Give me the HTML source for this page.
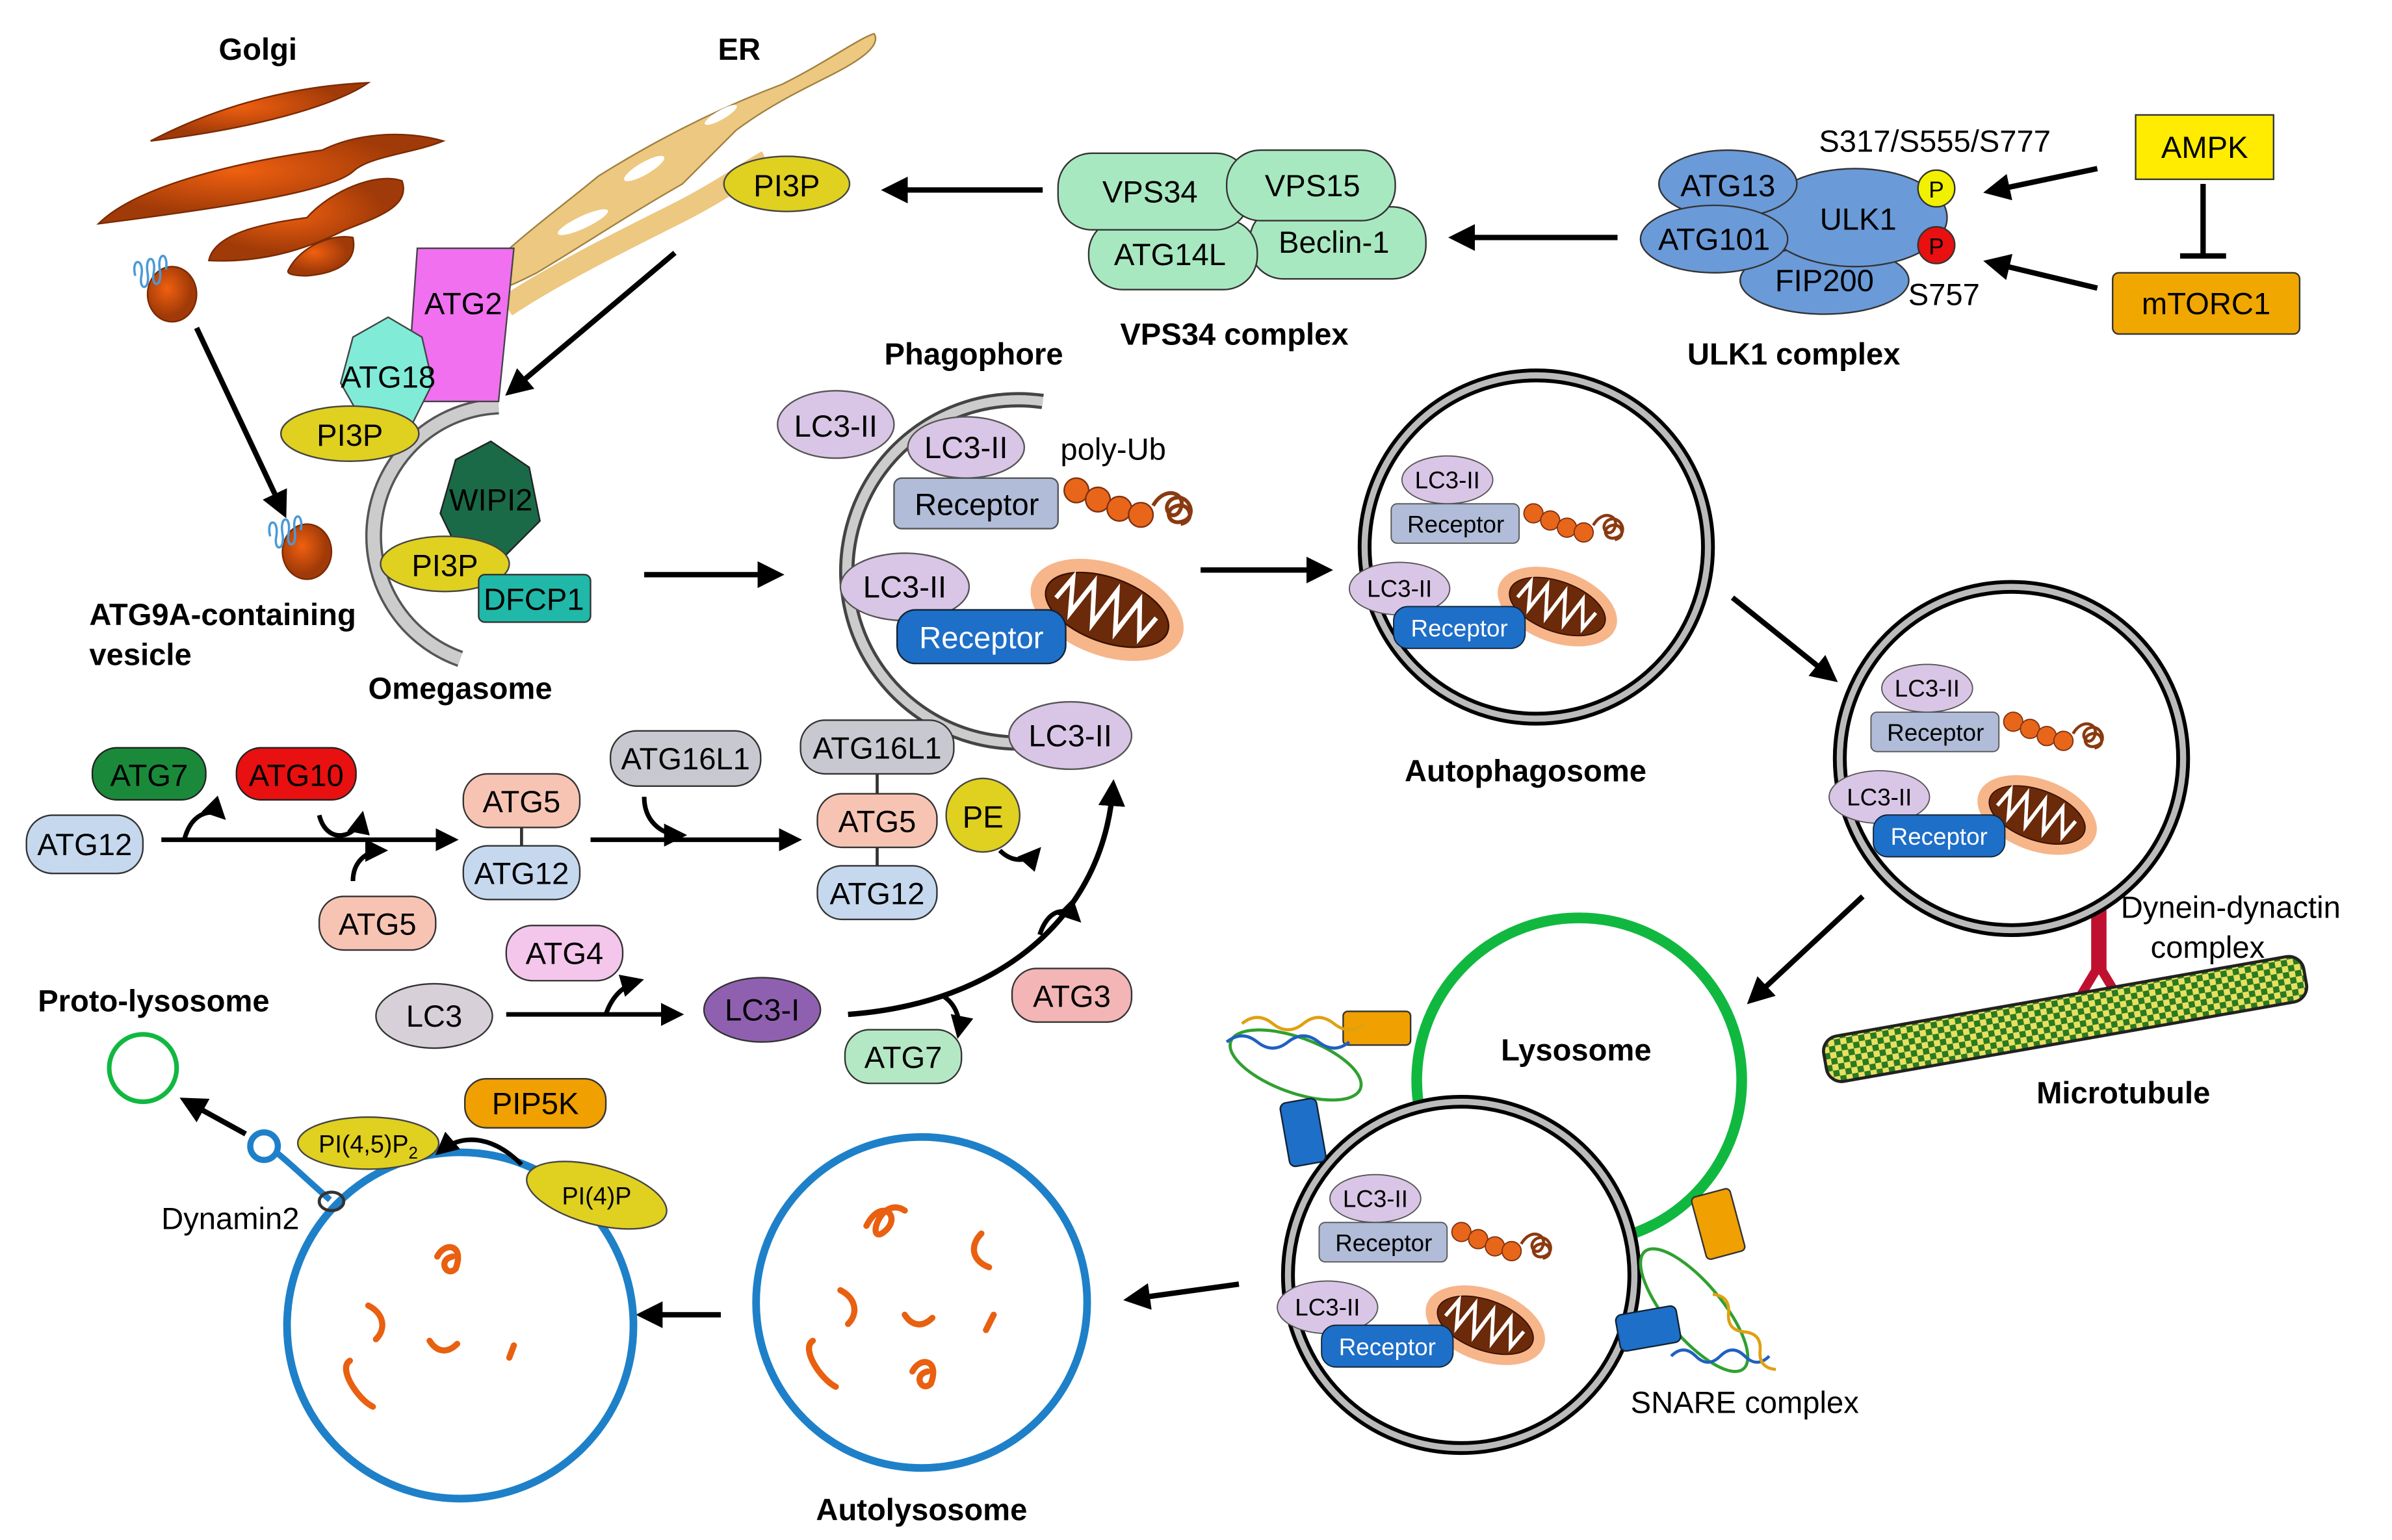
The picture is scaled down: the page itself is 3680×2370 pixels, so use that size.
<!DOCTYPE html>
<html><head><meta charset="utf-8"><style>
html,body{margin:0;padding:0;background:#fff;}
svg{display:block;}
text{font-family:"Liberation Sans",sans-serif;}
.b{font-weight:bold;font-size:20px;}
.t{font-size:20px;}
</style></head><body>
<svg width="3680" height="2370" viewBox="0 0 1560 1005" xmlns="http://www.w3.org/2000/svg">
<defs>
<marker id="ar" viewBox="0 0 10 10" refX="8" refY="5" markerWidth="5" markerHeight="5" orient="auto"><path d="M0,0 L10,5 L0,10 z" fill="#000"/></marker>
<pattern id="chk" width="8" height="8" patternUnits="userSpaceOnUse"><rect width="8" height="8" fill="#e8e060"/><rect width="4" height="4" fill="#2a7a20"/><rect x="4" y="4" width="4" height="4" fill="#2a7a20"/></pattern>
<radialGradient id="org" cx="0.4" cy="0.4"><stop offset="0" stop-color="#f06010"/><stop offset="1" stop-color="#a03a08"/></radialGradient>
<g id="mito"><ellipse rx="52" ry="30" fill="#f7b58a"/><ellipse rx="42" ry="21" fill="#6b2a0a" stroke="#3a1000"/><path d="M-34,4 L-28,-12 L-22,10 L-14,-14 L-6,12 L2,-14 L10,12 L18,-13 L26,10 L32,-6" fill="none" stroke="#fff" stroke-width="3"/></g>
<g id="ub"><circle cx="0" cy="0" r="8" fill="#e8661a" stroke="#803010"/><circle cx="14" cy="6" r="8" fill="#e8661a" stroke="#803010"/><circle cx="28" cy="12" r="8" fill="#e8661a" stroke="#803010"/><circle cx="42" cy="16" r="8" fill="#e8661a" stroke="#803010"/><path d="M50,10 c8,-14 22,-8 18,2 c-4,10 -14,0 -6,-6 c10,-6 18,10 8,14 c-10,4 -14,-8 -4,-10 c8,-2 12,10 2,12" fill="none" stroke="#8a3a10" stroke-width="2.5"/></g>
<g id="cargo">
<ellipse cx="50" cy="22" rx="38" ry="20" fill="#d9c6e6" stroke="#555"/><text x="50" y="29" text-anchor="middle" class="t">LC3-II</text>
<rect x="3" y="42" width="107" height="33" rx="5" fill="#b0bcd8" stroke="#555"/><text x="57" y="66" text-anchor="middle" class="t">Receptor</text>
<use href="#ub" x="122" y="50"/>
<ellipse cx="10" cy="113" rx="42" ry="22" fill="#d9c6e6" stroke="#555"/><text x="10" y="120" text-anchor="middle" class="t">LC3-II</text>
<use href="#mito" transform="translate(142,128) rotate(20)"/>
<rect x="5" y="128" width="110" height="35" rx="12" fill="#1e6fc8" stroke="#123"/><text x="60" y="153" text-anchor="middle" class="t" fill="#fff">Receptor</text>
</g>
</defs>

<!-- Golgi -->
<path d="M98,92 C140,70 190,56 240,54 C225,65 180,82 98,92z" fill="url(#org)" stroke="#7a2a00"/>
<path d="M64,146 C90,120 160,105 210,98 C230,88 260,84 289,92 C270,100 240,102 230,112 C215,125 150,135 64,146z" fill="url(#org)" stroke="#7a2a00"/>
<path d="M136,170 C140,150 180,145 200,142 C215,125 245,112 262,118 C268,135 245,142 225,150 C205,160 175,172 136,170z" fill="url(#org)" stroke="#7a2a00"/>
<path d="M188,176 C195,162 215,152 230,155 C233,170 222,178 200,180 C192,180 186,179 188,176z" fill="url(#org)" stroke="#7a2a00"/>
<ellipse cx="112" cy="192" rx="16" ry="18" fill="url(#org)" stroke="#7a2a00"/>
<path d="M88,180 c-3,-12 6,-12 4,0 c-2,10 6,10 4,-2 c-2,-12 6,-12 4,0 c-2,10 6,10 4,-2 c-2,-12 6,-12 4,0" fill="none" stroke="#4a9ad8" stroke-width="1.5"/>
<ellipse cx="200" cy="360" rx="16" ry="18" fill="url(#org)" stroke="#7a2a00"/>
<path d="M176,350 c-3,-12 6,-12 4,0 c-2,10 6,10 4,-2 c-2,-12 6,-12 4,0 c-2,10 6,10 4,-2 c-2,-12 6,-12 4,0" fill="none" stroke="#4a9ad8" stroke-width="1.5"/>
<line x1="128" y1="214" x2="185" y2="335" stroke="#000" stroke-width="3.5" marker-end="url(#ar)"/>
<text x="168" y="39" text-anchor="middle" class="b">Golgi</text>
<text x="482" y="39" text-anchor="middle" class="b">ER</text>
<text x="58" y="408" class="b">ATG9A-containing</text>
<text x="58" y="434" class="b">vesicle</text>
<text x="300" y="456" text-anchor="middle" class="b">Omegasome</text>

<!-- ER -->
<path d="M305,190 C330,160 360,140 390,115 C430,90 470,70 510,55 C540,40 560,25 570,22 C575,30 560,40 540,50 C520,60 500,70 480,85 C470,95 460,105 445,120 C410,140 380,160 350,178 C330,188 315,195 305,190 z" fill="#ecc880" stroke="#a08040"/>
<path d="M330,200 C360,180 400,160 440,140 C470,125 490,110 500,105" fill="none" stroke="#ecc880" stroke-width="14"/>
<ellipse cx="420" cy="110" rx="15" ry="4" fill="#fff" transform="rotate(-30 420 110)"/>
<ellipse cx="470" cy="75" rx="12" ry="3" fill="#fff" transform="rotate(-30 470 75)"/>
<ellipse cx="380" cy="145" rx="18" ry="4" fill="#fff" transform="rotate(-25 380 145)"/>
<ellipse cx="513" cy="120" rx="41" ry="18" fill="#e0d020" stroke="#444"/><text x="513" y="128" text-anchor="middle" class="t">PI3P</text>
<line x1="440" y1="165" x2="332" y2="256" stroke="#000" stroke-width="3.5" marker-end="url(#ar)"/>

<!-- Omegasome -->
<path d="M325,265 A85,85 0 0 0 300,430" fill="none" stroke="#555" stroke-width="11"/>
<path d="M325,265 A85,85 0 0 0 300,430" fill="none" stroke="#ccc" stroke-width="8"/>
<polygon points="272,162 335,162 325,262 265,262" fill="#f070f0" stroke="#444"/><text x="302" y="205" text-anchor="middle" class="t">ATG2</text>
<polygon points="253,207 275,220 282,250 268,278 238,278 222,250 230,220" fill="#80ecd8" stroke="#444"/><text x="253" y="253" text-anchor="middle" class="t">ATG18</text>
<ellipse cx="228" cy="283" rx="45" ry="18" fill="#e0d020" stroke="#444"/><text x="228" y="291" text-anchor="middle" class="t">PI3P</text>
<polygon points="320,288 345,305 352,340 330,362 300,362 287,335 297,300" fill="#1a6a48" stroke="#222"/><text x="320" y="333" text-anchor="middle" class="t">WIPI2</text>
<ellipse cx="290" cy="368" rx="42" ry="18" fill="#e0d020" stroke="#444"/><text x="290" y="376" text-anchor="middle" class="t">PI3P</text>
<rect x="312" y="375" width="73" height="31" rx="4" fill="#20b8a8" stroke="#333"/><text x="348" y="398" text-anchor="middle" class="t">DFCP1</text>
<line x1="420" y1="375" x2="508" y2="375" stroke="#000" stroke-width="3.5" marker-end="url(#ar)"/>

<!-- VPS34 complex -->
<line x1="680" y1="124" x2="578" y2="124" stroke="#000" stroke-width="3.5" marker-end="url(#ar)"/>
<rect x="815" y="135" width="115" height="47" rx="22" fill="#a8e8c0" stroke="#333"/><text x="870" y="165" text-anchor="middle" class="t">Beclin-1</text>
<rect x="710" y="143" width="110" height="46" rx="22" fill="#a8e8c0" stroke="#333"/><text x="763" y="173" text-anchor="middle" class="t">ATG14L</text>
<rect x="690" y="100" width="125" height="50" rx="22" fill="#a8e8c0" stroke="#333"/><text x="750" y="132" text-anchor="middle" class="t">VPS34</text>
<rect x="800" y="98" width="110" height="46" rx="22" fill="#a8e8c0" stroke="#333"/><text x="856" y="128" text-anchor="middle" class="t">VPS15</text>
<text x="805" y="225" text-anchor="middle" class="b">VPS34 complex</text>
<line x1="1055" y1="155" x2="948" y2="155" stroke="#000" stroke-width="3.5" marker-end="url(#ar)"/>

<!-- ULK1 complex -->
<ellipse cx="1190" cy="183" rx="55" ry="22" fill="#6a9ad8" stroke="#333"/><text x="1190" y="190" text-anchor="middle" class="t">FIP200</text>
<ellipse cx="1210" cy="142" rx="60" ry="32" fill="#6a9ad8" stroke="#333"/><text x="1212" y="150" text-anchor="middle" class="t">ULK1</text>
<ellipse cx="1127" cy="120" rx="45" ry="22" fill="#6a9ad8" stroke="#333"/><text x="1127" y="128" text-anchor="middle" class="t">ATG13</text>
<ellipse cx="1118" cy="156" rx="48" ry="22" fill="#6a9ad8" stroke="#333"/><text x="1118" y="163" text-anchor="middle" class="t">ATG101</text>
<circle cx="1263" cy="123" r="12" fill="#f0f000" stroke="#333"/><text x="1263" y="129" text-anchor="middle" font-size="15">P</text>
<circle cx="1263" cy="160" r="12" fill="#e81010" stroke="#333"/><text x="1263" y="166" text-anchor="middle" font-size="15">P</text>
<text x="1262" y="99" text-anchor="middle" class="t">S317/S555/S777</text>
<text x="1268" y="199" text-anchor="middle" class="t">S757</text>
<text x="1170" y="238" text-anchor="middle" class="b">ULK1 complex</text>
<rect x="1393" y="75" width="90" height="42" fill="#ffec00" stroke="#333"/><text x="1438" y="103" text-anchor="middle" class="t">AMPK</text>
<rect x="1378" y="178" width="122" height="40" rx="4" fill="#f0a800" stroke="#333"/><text x="1439" y="205" text-anchor="middle" class="t">mTORC1</text>
<line x1="1437" y1="120" x2="1437" y2="167" stroke="#000" stroke-width="3.5"/><line x1="1422" y1="167" x2="1452" y2="167" stroke="#000" stroke-width="3.5"/>
<line x1="1368" y1="110" x2="1297" y2="125" stroke="#000" stroke-width="3.5" marker-end="url(#ar)"/>
<line x1="1368" y1="188" x2="1297" y2="171" stroke="#000" stroke-width="3.5" marker-end="url(#ar)"/>

<!-- Phagophore -->
<text x="635" y="238" text-anchor="middle" class="b">Phagophore</text>
<path d="M680,262 A112,112 0 1 0 720,470" fill="none" stroke="#444" stroke-width="10"/>
<path d="M680,262 A112,112 0 1 0 720,470" fill="none" stroke="#ccc" stroke-width="6"/>
<ellipse cx="545" cy="277" rx="38" ry="22" fill="#d9c6e6" stroke="#555"/><text x="545" y="285" text-anchor="middle" class="t">LC3-II</text>
<use href="#cargo" x="580" y="270"/>
<text x="726" y="300" text-anchor="middle" class="t">poly-Ub</text>
<line x1="783" y1="372" x2="866" y2="372" stroke="#000" stroke-width="3.5" marker-end="url(#ar)"/>

<!-- Autophagosome -->
<circle cx="1002" cy="357" r="112" fill="none" stroke="#000" stroke-width="9"/><circle cx="1002" cy="357" r="112" fill="none" stroke="#bbb" stroke-width="4"/>
<use href="#cargo" transform="translate(905,296) scale(0.78)"/>
<text x="995" y="510" text-anchor="middle" class="b">Autophagosome</text>
<line x1="1130" y1="390" x2="1196" y2="443" stroke="#000" stroke-width="3.5" marker-end="url(#ar)"/>

<!-- Autophagosome 2 -->
<rect x="1364" y="585" width="10" height="50" fill="#c01030"/>
<path d="M1369,630 l-12,20 M1369,630 l12,20" stroke="#c01030" stroke-width="6"/>
<circle cx="1312" cy="495" r="112" fill="#fff" stroke="#000" stroke-width="9"/><circle cx="1312" cy="495" r="112" fill="none" stroke="#bbb" stroke-width="4"/>
<use href="#cargo" transform="translate(1218,432) scale(0.78)"/>
<g transform="rotate(-10 1347 665)"><rect x="1188" y="650" width="318" height="30" rx="10" fill="url(#chk)" stroke="#222" stroke-width="2"/></g>
<text x="1455" y="599" text-anchor="middle" class="t">Dynein-dynactin</text>
<text x="1440" y="625" text-anchor="middle" class="t">complex</text>
<text x="1385" y="720" text-anchor="middle" class="b">Microtubule</text>
<line x1="1215" y1="585" x2="1142" y2="653" stroke="#000" stroke-width="3.5" marker-end="url(#ar)"/>

<!-- Lysosome fusion -->
<circle cx="1030" cy="705" r="106" fill="none" stroke="#10b840" stroke-width="7"/>
<text x="1028" y="692" text-anchor="middle" class="b">Lysosome</text>
<circle cx="953" cy="832" r="113" fill="#fff" stroke="#000" stroke-width="9"/><circle cx="953" cy="832" r="113" fill="none" stroke="#bbb" stroke-width="4"/>
<use href="#cargo" transform="translate(858,765) scale(0.78)"/>
<rect x="876" y="660" width="44" height="22" rx="3" fill="#f0a000" stroke="#333"/>
<ellipse cx="845" cy="695" rx="45" ry="18" fill="none" stroke="#30a030" stroke-width="2" transform="rotate(20 845 695)"/>
<path d="M800,680 q10,-8 20,0 t20,0 t20,0 t20,0" fill="none" stroke="#2060c0" stroke-width="2"/>
<path d="M810,668 q10,-8 20,0 t20,0 t20,0 t20,0" fill="none" stroke="#e0a010" stroke-width="2"/>
<rect x="838" y="718" width="24" height="42" rx="4" fill="#1e6fc8" stroke="#123" transform="rotate(-10 850 740)"/>
<rect x="1108" y="778" width="26" height="42" rx="3" fill="#f0a000" stroke="#333" transform="rotate(-15 1120 800)"/>
<ellipse cx="1105" cy="855" rx="50" ry="18" fill="none" stroke="#30a030" stroke-width="2" transform="rotate(50 1105 855)"/>
<path d="M1090,885 q8,-8 16,0 t16,0 t16,0 t16,0" fill="none" stroke="#2060c0" stroke-width="2"/>
<path d="M1110,860 q8,-8 16,0 t16,0 t16,0 t16,0" fill="none" stroke="#e0a010" stroke-width="2" transform="rotate(50 1130 860)"/>
<rect x="1055" y="855" width="40" height="24" rx="4" fill="#1e6fc8" stroke="#123" transform="rotate(-10 1075 867)"/>
<text x="1138" y="922" text-anchor="middle" class="t">SNARE complex</text>
<line x1="808" y1="838" x2="736" y2="848" stroke="#000" stroke-width="3.5" marker-end="url(#ar)"/>

<!-- Autolysosome -->
<circle cx="601" cy="850" r="108" fill="none" stroke="#1e80c8" stroke-width="5"/>
<g fill="none" stroke="#e86010" stroke-width="4" stroke-linecap="round">
<path d="M565,800 c10,-20 25,-5 10,5 c-10,5 0,-25 15,-15"/><path d="M640,805 c-8,8 -6,18 5,22"/><path d="M548,842 c10,5 12,15 5,22"/><path d="M590,858 c5,8 12,8 18,2"/><path d="M648,858 l-5,10"/><path d="M530,875 c-8,5 5,25 15,30"/><path d="M595,895 c5,-10 18,-8 12,8 c-6,6 -12,-6 -2,-8"/>
<path d="M285,820 c5,-10 18,-8 12,8 c-6,6 -12,-6 -2,-8"/><path d="M240,852 c10,5 12,15 5,22"/><path d="M280,875 c5,8 12,8 18,2"/><path d="M335,878 l-3,8"/><path d="M228,888 c-8,5 5,25 15,30"/>
</g>
<text x="601" y="992" text-anchor="middle" class="b">Autolysosome</text>
<line x1="470" y1="858" x2="418" y2="858" stroke="#000" stroke-width="3.5" marker-end="url(#ar)"/>

<!-- Reformation -->
<circle cx="300" cy="865" r="113" fill="none" stroke="#1e80c8" stroke-width="5"/>
<circle cx="93" cy="697" r="22" fill="none" stroke="#10b840" stroke-width="3"/>
<text x="100" y="660" text-anchor="middle" class="b">Proto-lysosome</text>
<line x1="160" y1="740" x2="120" y2="718" stroke="#000" stroke-width="3.5" marker-end="url(#ar)"/>
<path d="M215,783 C200,770 190,760 180,752" fill="none" stroke="#1e80c8" stroke-width="4"/>
<circle cx="172" cy="748" r="9" fill="none" stroke="#1e80c8" stroke-width="4"/>
<ellipse cx="216" cy="784" rx="8" ry="6" fill="none" stroke="#333" stroke-width="2"/>
<ellipse cx="240" cy="746" rx="46" ry="17" fill="#e0d020" stroke="#444"/><text x="240" y="752" text-anchor="middle" font-size="16">PI(4,5)P<tspan font-size="11" dy="4">2</tspan></text>
<ellipse cx="389" cy="780" rx="47" ry="19" fill="#e0d020" stroke="#444" transform="rotate(15 389 780)"/><text x="389" y="786" text-anchor="middle" font-size="16">PI(4)P</text>
<rect x="303" y="704" width="92" height="32" rx="14" fill="#f0a000" stroke="#333"/><text x="349" y="727" text-anchor="middle" class="t">PIP5K</text>
<path d="M340,760 C320,740 300,740 286,752" fill="none" stroke="#000" stroke-width="3" marker-end="url(#ar)"/>
<text x="150" y="802" text-anchor="middle" class="t">Dynamin2</text>

<!-- Conjugation -->
<line x1="105" y1="548" x2="296" y2="548" stroke="#000" stroke-width="3" marker-end="url(#ar)"/>
<rect x="60" y="488" width="74" height="34" rx="16" fill="#1a8a3a" stroke="#222"/><text x="97" y="513" text-anchor="middle" class="t">ATG7</text>
<rect x="154" y="488" width="78" height="34" rx="16" fill="#e81010" stroke="#222"/><text x="193" y="513" text-anchor="middle" class="t">ATG10</text>
<rect x="17" y="532" width="76" height="38" rx="17" fill="#c5d8ee" stroke="#333"/><text x="55" y="558" text-anchor="middle" class="t">ATG12</text>
<path d="M120,548 c5,-20 20,-20 25,-15" fill="none" stroke="#000" stroke-width="3" marker-end="url(#ar)"/>
<path d="M208,532 c5,20 25,15 28,0" fill="none" stroke="#000" stroke-width="3" marker-end="url(#ar)"/>
<path d="M230,575 c0,-12 8,-20 20,-20" fill="none" stroke="#000" stroke-width="3" marker-end="url(#ar)"/>
<rect x="208" y="585" width="76" height="35" rx="16" fill="#f7c4b4" stroke="#333"/><text x="246" y="610" text-anchor="middle" class="t">ATG5</text>
<line x1="340" y1="538" x2="340" y2="552" stroke="#333" stroke-width="2"/>
<rect x="302" y="505" width="76" height="35" rx="16" fill="#f7c4b4" stroke="#333"/><text x="340" y="530" text-anchor="middle" class="t">ATG5</text>
<rect x="302" y="552" width="76" height="35" rx="16" fill="#c5d8ee" stroke="#333"/><text x="340" y="577" text-anchor="middle" class="t">ATG12</text>
<line x1="385" y1="548" x2="520" y2="548" stroke="#000" stroke-width="3" marker-end="url(#ar)"/>
<rect x="398" y="477" width="98" height="36" rx="17" fill="#c8c8d0" stroke="#333"/><text x="447" y="502" text-anchor="middle" class="t">ATG16L1</text>
<path d="M420,520 c0,15 10,25 25,25" fill="none" stroke="#000" stroke-width="3" marker-end="url(#ar)"/>
<line x1="572" y1="505" x2="572" y2="520" stroke="#333" stroke-width="2"/>
<line x1="572" y1="552" x2="572" y2="566" stroke="#333" stroke-width="2"/>
<rect x="522" y="470" width="100" height="35" rx="16" fill="#c8c8d0" stroke="#333"/><text x="572" y="495" text-anchor="middle" class="t">ATG16L1</text>
<rect x="533" y="518" width="78" height="35" rx="16" fill="#f7c4b4" stroke="#333"/><text x="572" y="543" text-anchor="middle" class="t">ATG5</text>
<rect x="533" y="565" width="78" height="35" rx="16" fill="#c5d8ee" stroke="#333"/><text x="572" y="590" text-anchor="middle" class="t">ATG12</text>
<circle cx="641" cy="532" r="24" fill="#e0d020" stroke="#444"/><text x="641" y="540" text-anchor="middle" class="t">PE</text>
<ellipse cx="698" cy="480" rx="40" ry="22" fill="#d9c6e6" stroke="#555"/><text x="698" y="487" text-anchor="middle" class="t">LC3-II</text>
<path d="M553,662 C650,655 720,600 726,512" fill="none" stroke="#000" stroke-width="3.5" marker-end="url(#ar)"/>
<path d="M652,555 c8,8 18,8 25,0" fill="none" stroke="#000" stroke-width="3" marker-end="url(#ar)"/>
<path d="M678,610 c5,-15 15,-20 25,-10" fill="none" stroke="#000" stroke-width="3" marker-end="url(#ar)"/>
<path d="M615,650 c8,5 12,15 10,25" fill="none" stroke="#000" stroke-width="3" marker-end="url(#ar)"/>
<rect x="660" y="632" width="78" height="35" rx="16" fill="#f3b5b5" stroke="#333"/><text x="699" y="657" text-anchor="middle" class="t">ATG3</text>
<rect x="551" y="672" width="76" height="35" rx="16" fill="#b4e8c4" stroke="#333"/><text x="589" y="697" text-anchor="middle" class="t">ATG7</text>
<rect x="330" y="604" width="76" height="36" rx="17" fill="#f4c6ec" stroke="#333"/><text x="368" y="629" text-anchor="middle" class="t">ATG4</text>
<line x1="330" y1="662" x2="443" y2="662" stroke="#000" stroke-width="3" marker-end="url(#ar)"/>
<path d="M395,662 c5,-15 15,-20 22,-22" fill="none" stroke="#000" stroke-width="3" marker-end="url(#ar)"/>
<ellipse cx="283" cy="663" rx="38" ry="21" fill="#d8d0d8" stroke="#333"/><text x="283" y="670" text-anchor="middle" class="t">LC3</text>
<ellipse cx="497" cy="659" rx="38" ry="21" fill="#9060b0" stroke="#333"/><text x="497" y="666" text-anchor="middle" class="t">LC3-I</text>
</svg>
</body></html>
